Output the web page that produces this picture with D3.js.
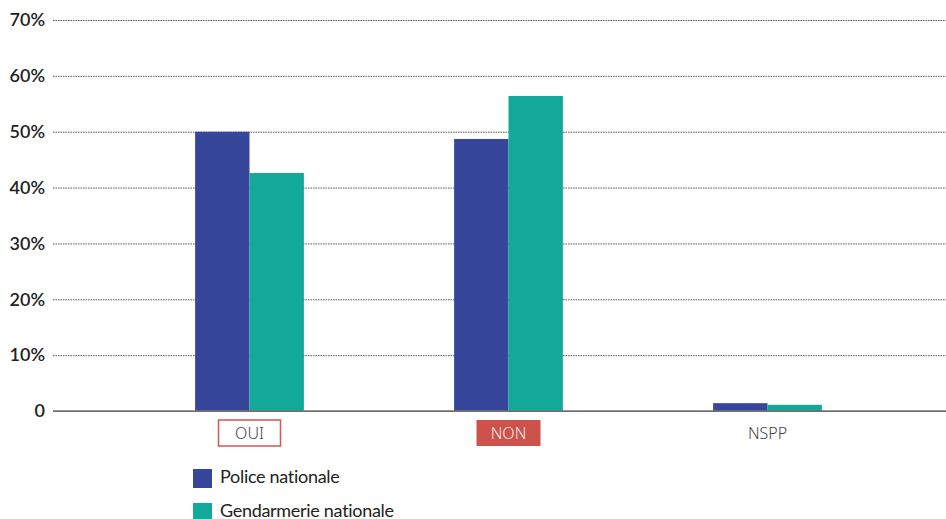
<!DOCTYPE html>
<html>
<head>
<meta charset="utf-8">
<script src="https://cdn.jsdelivr.net/npm/d3@7"></script>
<style>
  body { margin: 0; background: #fff; }
  svg { display: block; }
</style>
</head>
<body>
<div class="chart"></div>
<script>
// values (percent)
const categories = ["OUI", "NON", "NSPP"];
const seriesNames = ["Police nationale", "Gendarmerie nationale"];
const police = [50.0, 48.7, 1.4];
const gendarmerie = [42.6, 56.4, 1.1];
const yTicks = [0, 10, 20, 30, 40, 50, 60, 70];

const colors = ["#36469b", "#12a99a"];

const width = 946, height = 519;

const svg = d3.select(".chart")
  .append("svg")
  .attr("width", width)
  .attr("height", height);

// scales
const x = d3.scaleBand()
  .domain(categories)
  .range([120, 897])
  .paddingInner(0.58)
  .paddingOuter(0.29);

const x1 = d3.scaleBand()
  .domain(seriesNames)
  .range([0, x.bandwidth()]);

const y = d3.scaleLinear()
  .domain([0, 70])
  .range([411, 20]);

// gridlines + y labels
const yAxis = svg.append("g")
  .attr("transform", "translate(53,0)")
  .call(d3.axisLeft(y)
    .tickValues(yTicks)
    .tickSize(-(width - 53))
    .tickPadding(8)
    .tickFormat(d => d === 0 ? "0" : d + "%"));

yAxis.select(".domain").remove();
yAxis.selectAll(".tick line")
  .attr("stroke", "#555")
  .attr("stroke-width", 1)
  .attr("stroke-dasharray", d => d === 0 ? null : "1.5,1");
yAxis.selectAll(".tick text")
  .attr("fill", "#222")
  .style("font-family", "Lato, sans-serif")
  .style("font-size", "18px")
  .style("font-weight", "600");

// bars
const data = categories.map((c, i) => ({cat: c, vals: [police[i], gendarmerie[i]]}));

const groups = svg.selectAll(".grp")
  .data(data)
  .enter()
  .append("g")
  .attr("class", "grp")
  .attr("transform", d => "translate(" + x(d.cat) + ",0)");

groups.selectAll("rect")
  .data(d => d.vals.map((v, j) => ({name: seriesNames[j], v: v, j: j})))
  .enter()
  .append("rect")
  .attr("x", d => x1(d.name))
  .attr("width", x1.bandwidth())
  .attr("y", d => y(d.v))
  .attr("height", d => y(0) - y(d.v))
  .attr("fill", d => colors[d.j]);

// zero line drawn on top of bars
svg.append("line")
  .attr("x1", 53).attr("x2", width)
  .attr("y1", y(0)).attr("y2", y(0))
  .attr("stroke", "#777")
  .attr("stroke-width", 1.5);

// category labels, OUI boxed, NON filled
const boxW = [62, 64, 0];
const catG = svg.selectAll(".cat")
  .data(categories)
  .enter()
  .append("g")
  .attr("class", "cat")
  .attr("transform", d => "translate(" + (x(d) + x.bandwidth() / 2) + ",433)");

catG.filter((d, i) => i < 2)
  .append("rect")
  .attr("x", (d, i) => -boxW[i] / 2)
  .attr("y", -13)
  .attr("width", (d, i) => boxW[i])
  .attr("height", 26)
  .attr("fill", (d, i) => i === 1 ? "#cd524b" : "none")
  .attr("stroke", (d, i) => i === 0 ? "#d9534f" : "none")
  .attr("stroke-width", 1.5);

catG.append("text")
  .attr("text-anchor", "middle")
  .attr("dy", "0.35em")
  .attr("fill", (d, i) => i === 1 ? "#fbeaea" : "#444")
  .style("font-family", "'Noto Sans', sans-serif")
  .style("font-size", "16px")
  .style("font-weight", "300")
  .text(d => d);

// legend
const legend = svg.selectAll(".leg")
  .data(seriesNames)
  .enter()
  .append("g")
  .attr("class", "leg")
  .attr("transform", (d, i) => "translate(193," + (469 + i * 34) + ")");

legend.append("rect")
  .attr("width", 19)
  .attr("height", 19)
  .attr("fill", (d, i) => colors[i]);

legend.append("text")
  .attr("x", 27)
  .attr("y", 8)
  .attr("dy", "0.35em")
  .attr("fill", "#222")
  .style("font-family", "Lato, sans-serif")
  .style("font-size", "18px")
  .style("letter-spacing", "-0.3px")
  .text(d => d);
</script>
</body>
</html>
